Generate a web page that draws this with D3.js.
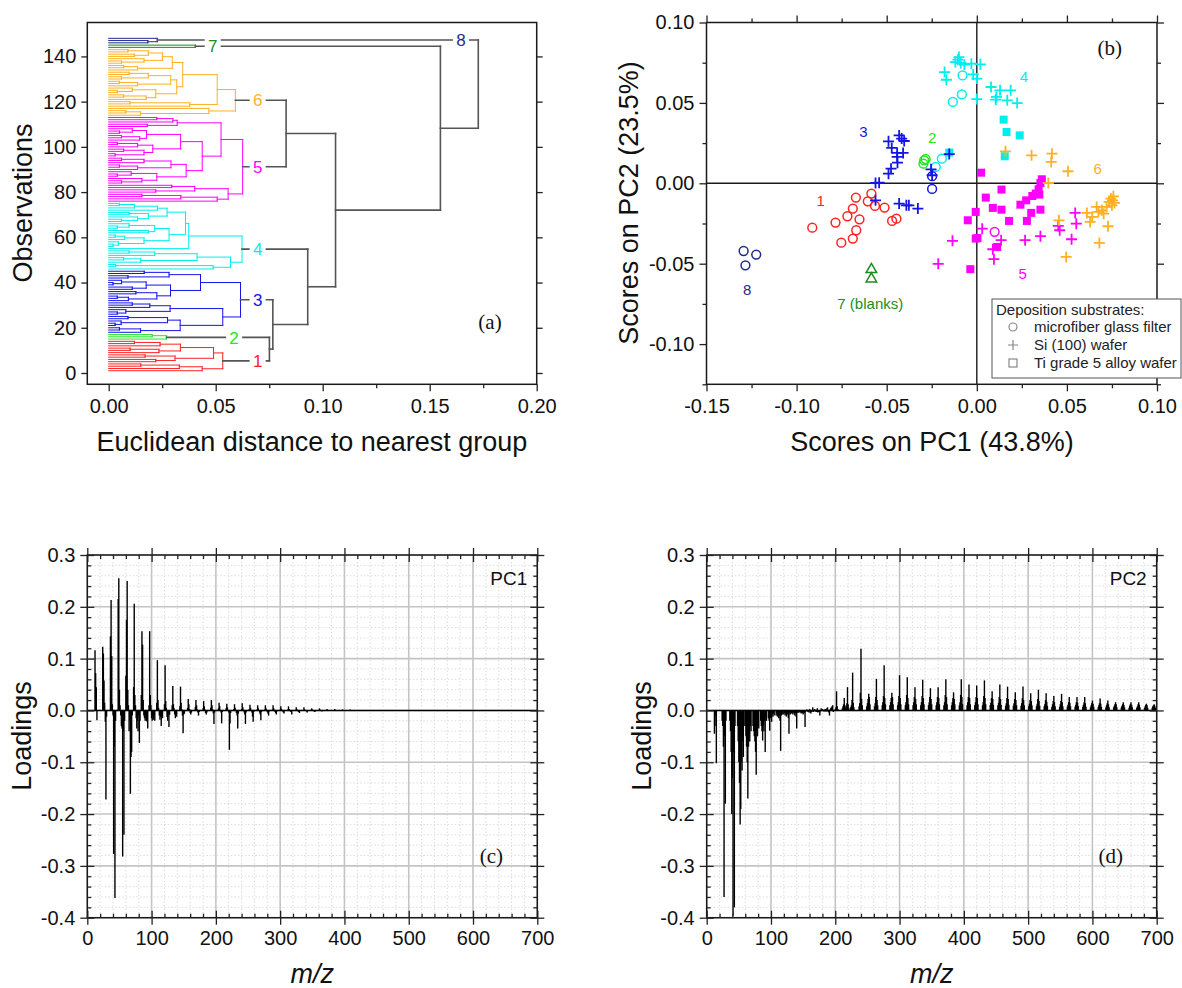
<!DOCTYPE html>
<html>
<head>
<meta charset="utf-8">
<script src="https://cdn.jsdelivr.net/npm/d3@7"></script>
<style>
  body { margin: 0; background: #fff; }
  svg { display: block; font-family: 'Liberation Sans', Arial, sans-serif; }
  .tick text { font-size: 20px; fill: #111; }
  .tick line { stroke: #222; stroke-width: 1.3; }
</style>
</head>
<body>
<svg id="fig" width="1182" height="988"></svg>
<script>
// ---------- (a) dendrogram: [mergeHeight, upperChild, lowerChild], leaf = 0 ----------
const grp1Tree = [0.0533,
  [0.049, [0.0335, [0.024, [0.012, 0, 0], 0], [0.0235, [0.010, 0, 0], 0]], [0.031, [0.017, 0, 0], [0.022, 0, 0]]],
  [0.0437, [0.033, [0.015, 0, 0], 0], 0]];
const grp2Tree = [0.027, [0.0203, 0, 0], 0];
const grp3Tree = [0.0616,
  [0.0429,
    [0.0282, [0.0166, 0, 0], [0.009, 0, 0]],
    [0.0289, [0.0175, [0.006, 0, [0.002, 0, 0]], [0.011, 0, 0]], [0.0225, [0.0127, 0, 0], [0.0092, [0.004, 0, 0], 0]]]],
  [0.0533,
    [0.0287, [0.0192, [0.011, 0, 0], 0], [0.008, 0, [0.004, 0, 0]]],
    [0.0334, [0.0275, [0.009, 0, 0], [0.0058, 0, [0.003, 0, 0]]], [0.0149, [0.005, 0, 0], 0]]]];
const grp4Tree = [0.0623,
  [0.0374,
    [0.0359,
      [0.0273, [0.0228, [0.012, [0.005, 0, 0], 0], 0], [0.0185, [0.0095, 0, 0], [0.0135, 0, [0.006, 0, 0]]]],
      [0.0282, [0.0215, [0.0095, 0, [0.004, 0, 0]], [0.0185, 0, 0]], [0.0165, [0.0075, [0.003, 0, 0], 0], [0.0045, 0, [0.002, 0, 0]]]]],
    0],
  [0.0569,
    [0.0413, [0.0215, [0.0095, 0, 0], 0], [0.015, [0.007, 0, 0], 0]],
    [0.0488, [0.0032, 0, 0], 0]]];
const grp5Tree = [0.0626,
  [0.0525,
    [0.032, [0.030, [0.0225, 0, 0], 0], [0.018, 0, 0]],
    [0.0437,
      [0.0336, [0.0177, [0.011, 0, [0.005, 0, 0]], [0.0145, [0.006, 0, 0], 0]], [0.0206, [0.0135, [0.004, 0, 0], 0], [0.0165, [0.007, 0, 0], [0.003, 0, 0]]]],
      [0.0362, [0.0291, [0.0165, [0.006, 0, 0], 0], [0.0135, [0.005, 0, 0], 0]], [0.0225, [0.0105, 0, [0.004, 0, 0]], [0.0155, 0, [0.006, 0, 0]]]]]],
  [0.0558,
    [0.0402, [0.0295, 0, 0], [0.022, 0, 0]],
    [0.0507, [0.0337, [0.0155, 0, 0], 0], 0]]];
const grp6Tree = [0.0592,
  [0.0507,
    [0.0346,
      [0.0297, [0.0251, [0.0185, [0.009, 0, 0], [0.012, 0, 0]], [0.0165, 0, [0.006, 0, 0]]], [0.0135, [0.007, 0, 0], 0]],
      [0.0318, [0.029, [0.0185, [0.0095, 0, 0], [0.006, 0, 0]], [0.0135, [0.005, 0, 0], 0]], [0.022, [0.011, 0, [0.004, 0, 0]], [0.0175, [0.007, 0, 0], 0]]]],
    [0.0379, [0.01, 0, 0], 0]],
  [0.0468, 0, [0.0149, [0.008, 0, 0], 0]]];
const grp7Tree = [0.0405, 0, 0];
const grp8Tree = [0.0227, 0, [0.0183, 0, 0]];
// links between the eight groups
const groupLinks = [0.1727, 'g8', [0.155, 'g7', [0.106, [0.0829, 'g6', 'g5'], [0.093, 'g4', [0.0767, 'g3', [0.0751, 'g2', 'g1']]]]]];
const groupNames = ['g1', 'g2', 'g3', 'g4', 'g5', 'g6', 'g7', 'g8'];
const groupText = ['1', '2', '3', '4', '5', '6', '7', '8'];
const groupLabelAt = [0.0696, 0.0586, 0.0696, 0.0696, 0.0696, 0.0696, 0.0486, 0.1646];
const nObs = 148;

// ---------- (b) scores ----------
const grp1Filter = [[-0.0913,-0.0276],[-0.0784,-0.0244],[-0.0718,-0.0205],[-0.0688,-0.0157],[-0.0671,-0.0089],[-0.0651,-0.0224],[-0.0669,-0.0292],[-0.0688,-0.0344],[-0.0752,-0.0369],[-0.0605,-0.0112],[-0.0585,-0.0064],[-0.0565,-0.0141],[-0.0512,-0.0151],[-0.0470,-0.0234],[-0.0446,-0.0220]];
const grp2Filter = [[-0.0292,0.0143],[-0.0296,0.0122],[-0.0284,0.0151]];
const grp3Wafer = [[-0.0490,0.0261],[-0.0472,0.0220],[-0.0442,0.0189],[-0.0431,0.0298],[-0.0417,0.0278],[-0.0403,0.0263],[-0.0442,0.0164],[-0.0440,0.0128],[-0.0409,0.0189],[-0.0476,0.0091],[-0.0490,0.0060],[-0.0562,0.0002],[-0.0542,0.0004],[-0.0562,-0.0106],[-0.0431,-0.0126],[-0.0391,-0.0137],[-0.0377,-0.0137],[-0.0327,-0.0157],[-0.0254,0.0087],[-0.0248,0.0050],[-0.0153,0.0182]];
const grp3Filter = [[-0.0248,0.0044],[-0.0248,-0.0035]];
const grp4Filter = [[-0.0228,0.0102],[-0.0194,0.0153],[-0.0133,0.0506],[-0.0083,0.0553],[-0.0079,0.0671]];
const grp4Wafer = [[-0.0179,0.0692],[-0.0169,0.0644],[-0.0119,0.0754],[-0.0105,0.0769],[-0.0099,0.0785],[-0.0089,0.0748],[-0.0069,0.0738],[-0.0030,0.0744],[-0.0020,0.0677],[0.0000,0.0651],[0.0000,0.0524],[0.0020,0.0740],[0.0079,0.0599],[0.0109,0.0537],[0.0129,0.0578],[0.0169,0.0516],[0.0188,0.0578],[0.0224,0.0499],[0.0105,0.0520]];
const grp4Ti = [[0.0149,0.0396],[0.0165,0.0319],[0.0238,0.0298],[0.0155,0.0168],[-0.0153,0.0191]];
const grp5Ti = [[0.0024,0.0066],[0.0050,-0.0089],[0.0089,-0.0153],[0.0137,-0.0164],[0.0137,-0.0039],[-0.0006,-0.0178],[-0.0050,-0.0230],[0.0179,-0.0234],[0.0242,-0.0133],[0.0274,-0.0106],[0.0308,-0.0079],[0.0327,-0.0064],[0.0343,-0.0037],[0.0353,0.0002],[0.0361,0.0025],[0.0347,-0.0070],[0.0353,-0.0164],[0.0302,-0.0184],[0.0278,-0.0234],[0.0004,-0.0340],[0.0113,-0.0396],[-0.0036,-0.0534],[-0.0006,-0.0344]];
const grp5Wafer = [[-0.0135,-0.0358],[-0.0214,-0.0501],[0.0030,-0.0282],[0.0095,-0.0472],[0.0089,-0.0410],[0.0135,-0.0354],[0.0268,-0.0354],[0.0353,-0.0329],[0.0452,-0.0265],[0.0460,-0.0292],[0.0526,-0.0348],[0.0552,-0.0251],[0.0546,-0.0184]];
const grp5Filter = [[0.0099,-0.0302]];
const grp6Wafer = [[0.0159,0.0199],[0.0304,0.0174],[0.0417,0.0184],[0.0413,0.0133],[0.0506,0.0075],[0.0397,0.0002],[0.0456,-0.0230],[0.0496,-0.0458],[0.0611,-0.0184],[0.0629,-0.0240],[0.0641,-0.0209],[0.0665,-0.0147],[0.0675,-0.0178],[0.0694,-0.0168],[0.0704,-0.0189],[0.0720,-0.0147],[0.0734,-0.0116],[0.0744,-0.0095],[0.0754,-0.0106],[0.0764,-0.0122],[0.0750,-0.0137],[0.0728,-0.0267],[0.0680,-0.0371],[0.0758,-0.0081]];
const grp7Blank = [[-0.0585,-0.0530],[-0.0585,-0.0588]];
const grp8Filter = [[-0.1294,-0.0421],[-0.1284,-0.0510],[-0.1224,-0.0443]];
const scoreLabels = [['1', -0.0867, -0.0110], ['2', -0.0248, 0.0284], ['3', -0.0629, 0.0319], ['4', 0.0262, 0.0665],
  ['5', 0.0254, -0.0561], ['6', 0.0671, 0.0091], ['7 (blanks)', -0.0591, -0.0748], ['8', -0.1274, -0.0659]];
const scoreLabelGroup = ['g1', 'g2', 'g3', 'g4', 'g5', 'g6', 'g7', 'g8'];
const legendItems = ['microfiber glass filter', 'Si (100) wafer', 'Ti grade 5 alloy wafer'];

// ---------- (c),(d) loadings: [first m/z, loadings at consecutive m/z] ----------
const pc1Sticks = [
  [12, [0.116, 0.072, 0.045, -0.019]],
  [24, [0.123, 0.110, 0.058, 0.015, -0.022, -0.172, -0.012]],
  [36, [0.143, 0.213, 0.105, 0.012, -0.010, -0.277, -0.070, -0.362, -0.020]],
  [48, [0.215, 0.255, 0.040, 0.010, -0.010, -0.030, -0.035, -0.282, -0.040, -0.240, -0.020]],
  [60, [0.067, 0.175, 0.250, 0.040, 0.010, -0.040, -0.020, -0.161, -0.090, -0.080, -0.010]],
  [72, [0.045, 0.206, 0.030, 0.010, -0.015, -0.035, -0.020, -0.040, -0.010, -0.063, -0.020]],
  [84, [0.030, 0.153, 0.127, 0.020, -0.010, -0.015, -0.020, -0.012, -0.020, -0.022, -0.035]],
  [96, [0.010, 0.153, 0.030, 0.010, -0.015, -0.020, -0.010, -0.018, -0.010, -0.020]],
  [108, [0.015, 0.097, 0.020, 0.005, -0.010, -0.018, -0.012, -0.030, -0.008, -0.015]],
  [120, [0.012, 0.087, 0.018, 0.005, -0.012, -0.020, -0.010, -0.032, -0.008]],
  [132, [0.010, 0.047, 0.012, 0.004, -0.008, -0.015, -0.006, -0.012]],
  [144, [0.008, 0.046, 0.015, 0.003, -0.010, -0.044, -0.008, -0.006]],
  [156, [0.005, 0.022, 0.012, 0.003, -0.005, -0.008, -0.004]],
  [168, [0.006, 0.020, 0.010, 0.002, -0.004, -0.010, -0.003]],
  [180, [0.004, 0.018, 0.008, 0.002, -0.005, -0.008, -0.004]],
  [192, [0.005, 0.020, 0.010, 0.002, -0.006, -0.026, -0.004]],
  [204, [0.004, 0.015, 0.008, 0.001, -0.004, -0.025, -0.003]],
  [216, [0.004, 0.013, 0.006, 0.001, -0.004, -0.076, -0.025, -0.005]],
  [228, [0.003, 0.012, 0.005, 0.001, -0.005, -0.010, -0.035, -0.006]],
  [240, [0.003, 0.014, 0.006, 0.001, -0.004, -0.008, -0.026, -0.004]],
  [252, [0.003, 0.011, 0.005, 0.001, -0.004, -0.012, -0.022, -0.003]],
  [264, [0.002, 0.010, 0.004, 0.001, -0.004, -0.008, -0.019, -0.003]],
  [276, [0.002, 0.010, 0.004, 0.001, -0.003, -0.006, -0.010, -0.002]],
  [288, [0.002, 0.010, 0.004, 0.001, -0.003, -0.005, -0.008, -0.002]],
  [300, [0.002, 0.008, 0.003, 0.001, -0.002, -0.004, -0.006]],
  [312, [0.002, 0.008, 0.003, 0.000, -0.002, -0.003, -0.008]],
  [324, [0.001, 0.006, 0.003, 0.000, -0.002, -0.003, -0.005]],
  [336, [0.001, 0.006, 0.002, 0.000, -0.001, -0.002, -0.004]],
  [348, [0.001, 0.004, 0.002, 0.000, -0.001, -0.002, -0.003]],
  [360, [0.001, 0.004, 0.002, 0.000, -0.001, -0.002]],
  [372, [0.001, 0.003, 0.001, 0.000, -0.001, -0.001]],
  [384, [0.001, 0.003, 0.001, -0.001]],
  [396, [0.000, 0.002, 0.001, -0.001]],
  [408, [0.000, 0.002, 0.001, -0.001]],
  [420, [0.001, -0.001]], [432, [0.001, -0.001]], [444, [0.001, -0.001]],
  [456, [0.001]], [468, [0.001]], [480, [0.001]]
];
const pc2Sticks = [
  [12, [-0.045, -0.030, -0.010, -0.102]],
  [24, [-0.020, -0.030, -0.070, -0.360, -0.050, -0.180, -0.020]],
  [36, [-0.020, -0.040, -0.080, -0.200, -0.130, -0.396, -0.080, -0.380, -0.030]],
  [48, [-0.030, -0.060, -0.100, -0.140, -0.220, -0.190, -0.100, -0.116, -0.060, -0.090, -0.030]],
  [60, [-0.030, -0.050, -0.070, -0.100, -0.170, -0.070, -0.050, -0.060, -0.030, -0.040]],
  [72, [-0.030, -0.040, -0.050, -0.060, -0.080, -0.124, -0.040, -0.050, -0.030, -0.035]],
  [84, [-0.020, -0.030, -0.040, -0.058, -0.030, -0.040, -0.020, -0.080, -0.015, -0.020]],
  [96, [-0.015, -0.020, -0.039, -0.015, -0.010, -0.022, -0.008, -0.012, -0.006, -0.010]],
  [108, [-0.010, -0.006, -0.012, -0.008, -0.015, -0.010, -0.020, -0.078, -0.010, -0.006, -0.008]],
  [120, [-0.008, -0.005, -0.010, -0.006, -0.012, -0.004, -0.008, -0.015, -0.045, -0.004, -0.008]],
  [132, [-0.006, -0.004, -0.008, -0.004, -0.006, -0.010, -0.005, -0.012, -0.035, -0.004, -0.005]],
  [144, [-0.004, -0.003, -0.004, -0.006, -0.003, -0.005, -0.008, -0.004, -0.005, -0.032, -0.003]],
  [156, [0.002, -0.002, -0.003, -0.004, 0.003, -0.004, -0.006, -0.003, -0.002, 0.006, -0.003]],
  [168, [0.003, -0.002, -0.002, -0.003, 0.004, -0.004, -0.003, -0.002, -0.010, -0.002, 0.004]],
  [180, [0.003, -0.001, -0.002, 0.002, -0.002, 0.003, -0.002, 0.004, 0.006, -0.003, -0.004, -0.010, 0.002]],
  [193, [0.004, 0.006, 0.008, 0.010, -0.003]],
  [199, [0.000, 0.003, 0.006, 0.037, 0.008, 0.003]],
  [211, [0.004, 0.008, 0.012, 0.024, 0.010, 0.004]],
  [216, [0.004, 0.008, 0.014, 0.045, 0.012, 0.005]],
  [224, [0.006, 0.010, 0.020, 0.073, 0.015, 0.006]],
  [237, [0.008, 0.014, 0.034, 0.119, 0.022, 0.010]],
  [249, [0.008, 0.014, 0.022, 0.032, 0.026, 0.012]],
  [261, [0.008, 0.014, 0.026, 0.061, 0.020, 0.010]],
  [273, [0.010, 0.016, 0.028, 0.087, 0.024, 0.012]],
  [285, [0.010, 0.016, 0.024, 0.034, 0.026, 0.012]],
  [297, [0.010, 0.016, 0.028, 0.068, 0.024, 0.012]],
  [309, [0.010, 0.016, 0.030, 0.064, 0.024, 0.012]],
  [321, [0.010, 0.016, 0.026, 0.045, 0.022, 0.012]],
  [333, [0.010, 0.016, 0.028, 0.059, 0.024, 0.012]],
  [345, [0.010, 0.016, 0.026, 0.043, 0.022, 0.012]],
  [357, [0.010, 0.016, 0.026, 0.045, 0.024, 0.012]],
  [369, [0.010, 0.016, 0.030, 0.060, 0.026, 0.012]],
  [381, [0.010, 0.016, 0.024, 0.035, 0.022, 0.012]],
  [393, [0.010, 0.016, 0.030, 0.060, 0.026, 0.012]],
  [405, [0.010, 0.016, 0.026, 0.050, 0.024, 0.012]],
  [417, [0.010, 0.016, 0.026, 0.048, 0.024, 0.012]],
  [429, [0.010, 0.016, 0.028, 0.058, 0.024, 0.012]],
  [441, [0.010, 0.015, 0.024, 0.037, 0.022, 0.011]],
  [453, [0.010, 0.015, 0.026, 0.050, 0.022, 0.011]],
  [465, [0.009, 0.014, 0.024, 0.046, 0.022, 0.011]],
  [477, [0.009, 0.014, 0.022, 0.035, 0.020, 0.010]],
  [489, [0.009, 0.014, 0.024, 0.046, 0.020, 0.010]],
  [501, [0.008, 0.013, 0.020, 0.033, 0.018, 0.010]],
  [513, [0.008, 0.013, 0.022, 0.040, 0.018, 0.009]],
  [525, [0.008, 0.012, 0.020, 0.033, 0.017, 0.009]],
  [537, [0.007, 0.012, 0.018, 0.028, 0.016, 0.008]],
  [549, [0.007, 0.012, 0.018, 0.032, 0.016, 0.008]],
  [561, [0.007, 0.011, 0.016, 0.026, 0.015, 0.008]],
  [573, [0.007, 0.011, 0.016, 0.026, 0.015, 0.008]],
  [585, [0.007, 0.011, 0.016, 0.026, 0.014, 0.007]],
  [597, [0.006, 0.010, 0.014, 0.019, 0.013, 0.007]],
  [609, [0.006, 0.010, 0.014, 0.023, 0.013, 0.007]],
  [621, [0.006, 0.010, 0.014, 0.019, 0.012, 0.006]],
  [633, [0.006, 0.009, 0.012, 0.016, 0.012, 0.006]],
  [645, [0.006, 0.009, 0.012, 0.016, 0.011, 0.006]],
  [657, [0.005, 0.009, 0.012, 0.016, 0.011, 0.006]],
  [669, [0.005, 0.008, 0.012, 0.016, 0.011, 0.006]],
  [681, [0.005, 0.008, 0.011, 0.013, 0.010, 0.005]],
  [693, [0.005, 0.008, 0.010, 0.012, 0.009, 0.005]]
];

const colors = {g1: '#ff2222', g2: '#22e822', g3: '#1414e6', g4: '#00eeee', g5: '#ff00ff', g6: '#ffb024', g7: '#1e8c1e', g8: '#1f2a8c'};
const LINK_GRAY = '#555';
const INK = '#1a1a1a';

const svg = d3.select('#fig');
svg.append('rect').attr('width', 1182).attr('height', 988).attr('fill', '#fff');

const fmt = (spec) => {
  const f = d3.format(spec);
  return (d) => f(d).replace('\u2212', '-');
};
const noDomain = (g) => g.select('.domain').remove();

function frame(g, x, y) {
  const [x0, x1] = x.range();
  const [y0, y1] = y.range();
  g.append('rect')
    .attr('x', x0).attr('y', y1)
    .attr('width', x1 - x0).attr('height', y0 - y1)
    .attr('fill', 'none').attr('stroke', INK).attr('stroke-width', 1.5);
}

function axisAt(g, axis, tx, ty) {
  return g.append('g')
    .attr('transform', `translate(${tx},${ty})`)
    .call(axis)
    .call(noDomain);
}

function titleY(g, text, x, y) {
  g.append('text')
    .attr('transform', `translate(${x},${y}) rotate(-90)`)
    .attr('text-anchor', 'middle')
    .attr('font-size', 27).attr('fill', '#111')
    .text(text);
}

function titleX(g, text, x, y) {
  return g.append('text')
    .attr('x', x).attr('y', y)
    .attr('text-anchor', 'middle')
    .attr('font-size', 27).attr('fill', '#111')
    .text(text);
}

function tag(g, text, x, y) {
  g.append('text')
    .attr('x', x).attr('y', y)
    .attr('text-anchor', 'middle')
    .attr('font-family', "'Liberation Serif', 'Times New Roman', serif")
    .attr('font-size', 21).attr('fill', '#111')
    .text(text);
}

// ================= (a) =================
(function drawDendrogram() {
  const g = svg.append('g');
  const x = d3.scaleLinear().domain([-0.01, 0.20]).range([87.3, 536.7]);
  const y = d3.scaleLinear().domain([-5, 155]).range([384.3, 22.5]);
  const trees = {g1: grp1Tree, g2: grp2Tree, g3: grp3Tree, g4: grp4Tree, g5: grp5Tree, g6: grp6Tree, g7: grp7Tree, g8: grp8Tree};

  let nextObs = nObs;
  const segs = [];
  const spots = [];

  const place = (node, color) => {
    if (node === 0) return {h: 0, obs: nextObs--};
    const [h, a, b] = node;
    const pa = place(a, color);
    const pb = place(b, color);
    segs.push({h0: pa.h, h1: h, o0: pa.obs, o1: pa.obs, c: color});
    segs.push({h0: pb.h, h1: h, o0: pb.obs, o1: pb.obs, c: color});
    segs.push({h0: h, h1: h, o0: pa.obs, o1: pb.obs, c: color});
    return {h, obs: (pa.obs + pb.obs) / 2};
  };

  const placeTop = (node) => {
    if (typeof node === 'string') {
      const r = place(trees[node], colors[node]);
      r.group = node;
      return r;
    }
    const [h, a, b] = node;
    const pa = placeTop(a);
    const pb = placeTop(b);
    [pa, pb].forEach((p) => {
      segs.push({h0: p.h, h1: h, o0: p.obs, o1: p.obs, c: LINK_GRAY});
      if (p.group) spots.push({g: p.group, obs: p.obs});
    });
    segs.push({h0: h, h1: h, o0: pa.obs, o1: pb.obs, c: LINK_GRAY});
    return {h, obs: (pa.obs + pb.obs) / 2};
  };
  placeTop(groupLinks);

  g.selectAll('line.seg')
    .data(segs)
    .enter()
    .append('line')
    .attr('class', 'seg')
    .attr('x1', (d) => x(d.h0)).attr('x2', (d) => x(d.h1))
    .attr('y1', (d) => y(d.o0)).attr('y2', (d) => y(d.o1))
    .attr('stroke', (d) => d.c)
    .attr('stroke-width', (d) => d.c === LINK_GRAY ? 1.6 : 1)
    .attr('stroke-linecap', 'square');

  const lab = g.selectAll('g.glabel')
    .data(spots)
    .enter()
    .append('g')
    .attr('class', 'glabel')
    .attr('transform', (d) => `translate(${x(groupLabelAt[groupNames.indexOf(d.g)])},${y(d.obs)})`);
  lab.append('rect')
    .attr('x', -8).attr('y', -9).attr('width', 16).attr('height', 18)
    .attr('fill', '#fff');
  lab.append('text')
    .attr('text-anchor', 'middle').attr('dy', '0.36em')
    .attr('font-size', 17)
    .attr('fill', (d) => colors[d.g])
    .text((d) => groupText[groupNames.indexOf(d.g)]);

  frame(g, x, y);
  const [bx, by] = [x.range()[0], y.range()[0]];
  axisAt(g, d3.axisBottom(x).tickValues([0, 0.05, 0.10, 0.15, 0.20]).tickSize(7).tickPadding(8).tickFormat(fmt('.2f')), 0, by);
  axisAt(g, d3.axisBottom(x).tickValues([0.025, 0.075, 0.125, 0.175]).tickSize(4).tickFormat(''), 0, by);
  const obsTicks = [0, 20, 40, 60, 80, 100, 120, 140];
  axisAt(g, d3.axisLeft(y).tickValues(obsTicks).tickSize(6).tickPadding(5), bx, 0);
  axisAt(g, d3.axisRight(y).tickValues(obsTicks).tickSize(6).tickFormat(''), x.range()[1], 0);

  titleY(g, 'Observations', 32, 203);
  titleX(g, 'Euclidean distance to nearest group', 312, 451);
  tag(g, '(a)', 490, 329);
})();

// ================= (b) =================
(function drawScores() {
  const g = svg.append('g');
  const x = d3.scaleLinear().domain([-0.15, 0.10]).range([706.5, 1157]);
  const y = d3.scaleLinear().domain([-0.125, 0.10]).range([384.3, 22.5]);

  // zero lines
  g.append('line')
    .attr('x1', x(0)).attr('x2', x(0)).attr('y1', y.range()[1]).attr('y2', y.range()[0])
    .attr('stroke', INK).attr('stroke-width', 1.4);
  g.append('line')
    .attr('x1', x.range()[0]).attr('x2', x.range()[1]).attr('y1', y(0)).attr('y2', y(0))
    .attr('stroke', INK).attr('stroke-width', 1.4);

  const series = [
    {pts: grp1Filter, shape: 'circle', c: colors.g1},
    {pts: grp2Filter, shape: 'circle', c: colors.g2},
    {pts: grp4Ti, shape: 'square', c: colors.g4},
    {pts: grp4Filter, shape: 'circle', c: colors.g4},
    {pts: grp4Wafer, shape: 'plus', c: colors.g4},
    {pts: grp3Filter, shape: 'circle', c: colors.g3},
    {pts: grp3Wafer, shape: 'plus', c: colors.g3},
    {pts: grp5Ti, shape: 'square', c: colors.g5},
    {pts: grp5Wafer, shape: 'plus', c: colors.g5},
    {pts: grp5Filter, shape: 'circle', c: colors.g5},
    {pts: grp6Wafer, shape: 'plus', c: colors.g6},
    {pts: grp7Blank, shape: 'triangle', c: colors.g7},
    {pts: grp8Filter, shape: 'circle', c: colors.g8}
  ];
  const tri = d3.symbol(d3.symbolTriangle, 48)();

  series.forEach((s) => {
    const sel = g.append('g').selectAll('.pt').data(s.pts).enter();
    if (s.shape === 'circle') {
      sel.append('circle')
        .attr('cx', (d) => x(d[0])).attr('cy', (d) => y(d[1])).attr('r', 4.4)
        .attr('fill', 'none').attr('stroke', s.c).attr('stroke-width', 1.5);
    } else if (s.shape === 'plus') {
      sel.append('path')
        .attr('transform', (d) => `translate(${x(d[0])},${y(d[1])})`)
        .attr('d', 'M-5.5,0H5.5M0,-5.5V5.5')
        .attr('stroke', s.c).attr('stroke-width', 1.8);
    } else if (s.shape === 'square') {
      sel.append('rect')
        .attr('x', (d) => x(d[0]) - 4).attr('y', (d) => y(d[1]) - 4)
        .attr('width', 8).attr('height', 8)
        .attr('fill', s.c);
    } else {
      sel.append('path')
        .attr('transform', (d) => `translate(${x(d[0])},${y(d[1]) + 1})`)
        .attr('d', tri)
        .attr('fill', 'none').attr('stroke', s.c).attr('stroke-width', 1.5);
    }
  });

  g.selectAll('text.slab')
    .data(scoreLabels)
    .enter()
    .append('text')
    .attr('class', 'slab')
    .attr('x', (d) => x(d[1])).attr('y', (d) => y(d[2]))
    .attr('dy', '0.36em').attr('text-anchor', 'middle')
    .attr('font-size', 15)
    .attr('fill', (d, i) => colors[scoreLabelGroup[i]])
    .text((d) => d[0]);

  frame(g, x, y);
  const [x0, x1] = x.range();
  const [y0, y1] = y.range();
  const xMajor = [-0.15, -0.10, -0.05, 0, 0.05, 0.10];
  const xMinor = [-0.125, -0.075, -0.025, 0.025, 0.075];
  const yMajor = [-0.10, -0.05, 0, 0.05, 0.10];
  const yMinor = [-0.125, -0.075, -0.025, 0.025, 0.075];
  axisAt(g, d3.axisBottom(x).tickValues(xMajor).tickSize(7).tickPadding(8).tickFormat(fmt('.2f')), 0, y0);
  axisAt(g, d3.axisBottom(x).tickValues(xMinor).tickSize(4).tickFormat(''), 0, y0);
  axisAt(g, d3.axisTop(x).tickValues(xMajor).tickSize(7).tickFormat(''), 0, y1);
  axisAt(g, d3.axisTop(x).tickValues(xMinor).tickSize(4).tickFormat(''), 0, y1);
  axisAt(g, d3.axisLeft(y).tickValues(yMajor).tickSize(7).tickPadding(5).tickFormat(fmt('.2f')), x0, 0);
  axisAt(g, d3.axisLeft(y).tickValues(yMinor).tickSize(4).tickFormat(''), x0, 0);
  axisAt(g, d3.axisRight(y).tickValues(yMajor).tickSize(7).tickFormat(''), x1, 0);
  axisAt(g, d3.axisRight(y).tickValues(yMinor).tickSize(4).tickFormat(''), x1, 0);

  // legend
  const lg = g.append('g').attr('transform', 'translate(992,299)');
  lg.append('rect')
    .attr('width', 189).attr('height', 79)
    .attr('fill', '#fff').attr('stroke', '#555').attr('stroke-width', 1);
  lg.append('text').attr('x', 4).attr('y', 16).attr('font-size', 15).attr('fill', '#222')
    .text('Deposition substrates:');
  const items = lg.selectAll('g.li').data(legendItems).enter().append('g')
    .attr('class', 'li')
    .attr('transform', (d, i) => `translate(0,${33 + i * 18})`);
  items.append('text').attr('x', 42).attr('font-size', 15).attr('fill', '#222').text((d) => d);
  items.filter((d, i) => i === 0).append('circle')
    .attr('cx', 21).attr('cy', -5).attr('r', 4).attr('fill', 'none').attr('stroke', '#888').attr('stroke-width', 1.2);
  items.filter((d, i) => i === 1).append('path')
    .attr('d', 'M16,-5H26M21,-10V0').attr('stroke', '#888').attr('stroke-width', 1.2);
  items.filter((d, i) => i === 2).append('rect')
    .attr('x', 17).attr('y', -9).attr('width', 8).attr('height', 8)
    .attr('fill', 'none').attr('stroke', '#888').attr('stroke-width', 1.2);

  titleY(g, 'Scores on PC2 (23.5%)', 638, 203);
  titleX(g, 'Scores on PC1 (43.8%)', 932, 451);
  tag(g, '(b)', x(0.0738), y(0.084) + 7);
})();

// ================= (c), (d) =================
function drawLoadings(sticks, x0, pcName, tagText) {
  const g = svg.append('g');
  const x = d3.scaleLinear().domain([0, 700]).range([x0, x0 + 450]);
  const y = d3.scaleLinear().domain([-0.4, 0.3]).range([917.7, 555]);
  const [xa, xb] = x.range();
  const [ya, yb] = y.range();

  const minorX = d3.range(20, 700, 20).filter((v) => v % 100 !== 0);
  const majorX = d3.range(0, 701, 100);
  const minorY = d3.range(-19, 15).map((k) => k * 0.02).filter((v) => Math.abs(Math.round(v * 10) - v * 10) > 1e-6);
  const majorY = [-0.4, -0.3, -0.2, -0.1, 0, 0.1, 0.2, 0.3];

  g.selectAll('line.gmx').data(minorX).enter().append('line')
    .attr('x1', (d) => x(d)).attr('x2', (d) => x(d)).attr('y1', yb).attr('y2', ya)
    .attr('stroke', '#d4d4d4').attr('stroke-width', 0.8).attr('stroke-dasharray', '1.5,2');
  g.selectAll('line.gmy').data(minorY).enter().append('line')
    .attr('x1', xa).attr('x2', xb).attr('y1', (d) => y(d)).attr('y2', (d) => y(d))
    .attr('stroke', '#d4d4d4').attr('stroke-width', 0.8).attr('stroke-dasharray', '1.5,2');
  g.selectAll('line.gMx').data(majorX).enter().append('line')
    .attr('x1', (d) => x(d)).attr('x2', (d) => x(d)).attr('y1', yb).attr('y2', ya)
    .attr('stroke', '#c4c4c4').attr('stroke-width', 1.6);
  g.selectAll('line.gMy').data(majorY).enter().append('line')
    .attr('x1', xa).attr('x2', xb).attr('y1', (d) => y(d)).attr('y2', (d) => y(d))
    .attr('stroke', '#c4c4c4').attr('stroke-width', 1.6);

  const flat = sticks.flatMap(([m0, vals]) => vals.map((v, i) => [m0 + i, v]));
  g.selectAll('line.stick').data(flat).enter().append('line')
    .attr('class', 'stick')
    .attr('x1', (d) => x(d[0])).attr('x2', (d) => x(d[0]))
    .attr('y1', y(0)).attr('y2', (d) => y(d[1]))
    .attr('stroke', '#000').attr('stroke-width', 1.4);

  g.append('line')
    .attr('x1', xa).attr('x2', xb).attr('y1', y(0)).attr('y2', y(0))
    .attr('stroke', '#000').attr('stroke-width', 1.5);

  frame(g, x, y);
  axisAt(g, d3.axisBottom(x).tickValues(majorX).tickSize(7).tickPadding(6).tickFormat(d3.format('d')), 0, ya);
  axisAt(g, d3.axisBottom(x).tickValues(majorX).tickSize(-7).tickFormat(''), 0, ya);
  axisAt(g, d3.axisBottom(x).tickValues(minorX).tickSize(-4).tickFormat(''), 0, ya);
  axisAt(g, d3.axisTop(x).tickValues(majorX).tickSize(7).tickFormat(''), 0, yb);
  axisAt(g, d3.axisTop(x).tickValues(majorX).tickSize(-7).tickFormat(''), 0, yb);
  axisAt(g, d3.axisTop(x).tickValues(minorX).tickSize(-4).tickFormat(''), 0, yb);
  axisAt(g, d3.axisLeft(y).tickValues(majorY).tickSize(7).tickPadding(5).tickFormat(fmt('.1f')), xa, 0);
  axisAt(g, d3.axisLeft(y).tickValues(majorY).tickSize(-7).tickFormat(''), xa, 0);
  axisAt(g, d3.axisLeft(y).tickValues(minorY).tickSize(-4).tickFormat(''), xa, 0);
  axisAt(g, d3.axisRight(y).tickValues(majorY).tickSize(7).tickFormat(''), xb, 0);
  axisAt(g, d3.axisRight(y).tickValues(majorY).tickSize(-7).tickFormat(''), xb, 0);
  axisAt(g, d3.axisRight(y).tickValues(minorY).tickSize(-4).tickFormat(''), xb, 0);

  g.append('text')
    .attr('x', xb - 10).attr('y', 585)
    .attr('text-anchor', 'end').attr('font-size', 19).attr('fill', '#111')
    .text(pcName);
  tag(g, tagText, xb - 46, 863);

  titleY(g, 'Loadings', xa - 56, 736);
  titleX(g, 'm/z', (xa + xb) / 2, 983).attr('font-style', 'italic');
}

drawLoadings(pc1Sticks, 87.3, 'PC1', '(c)');
drawLoadings(pc2Sticks, 706.7, 'PC2', '(d)');
</script>
</body>
</html>
